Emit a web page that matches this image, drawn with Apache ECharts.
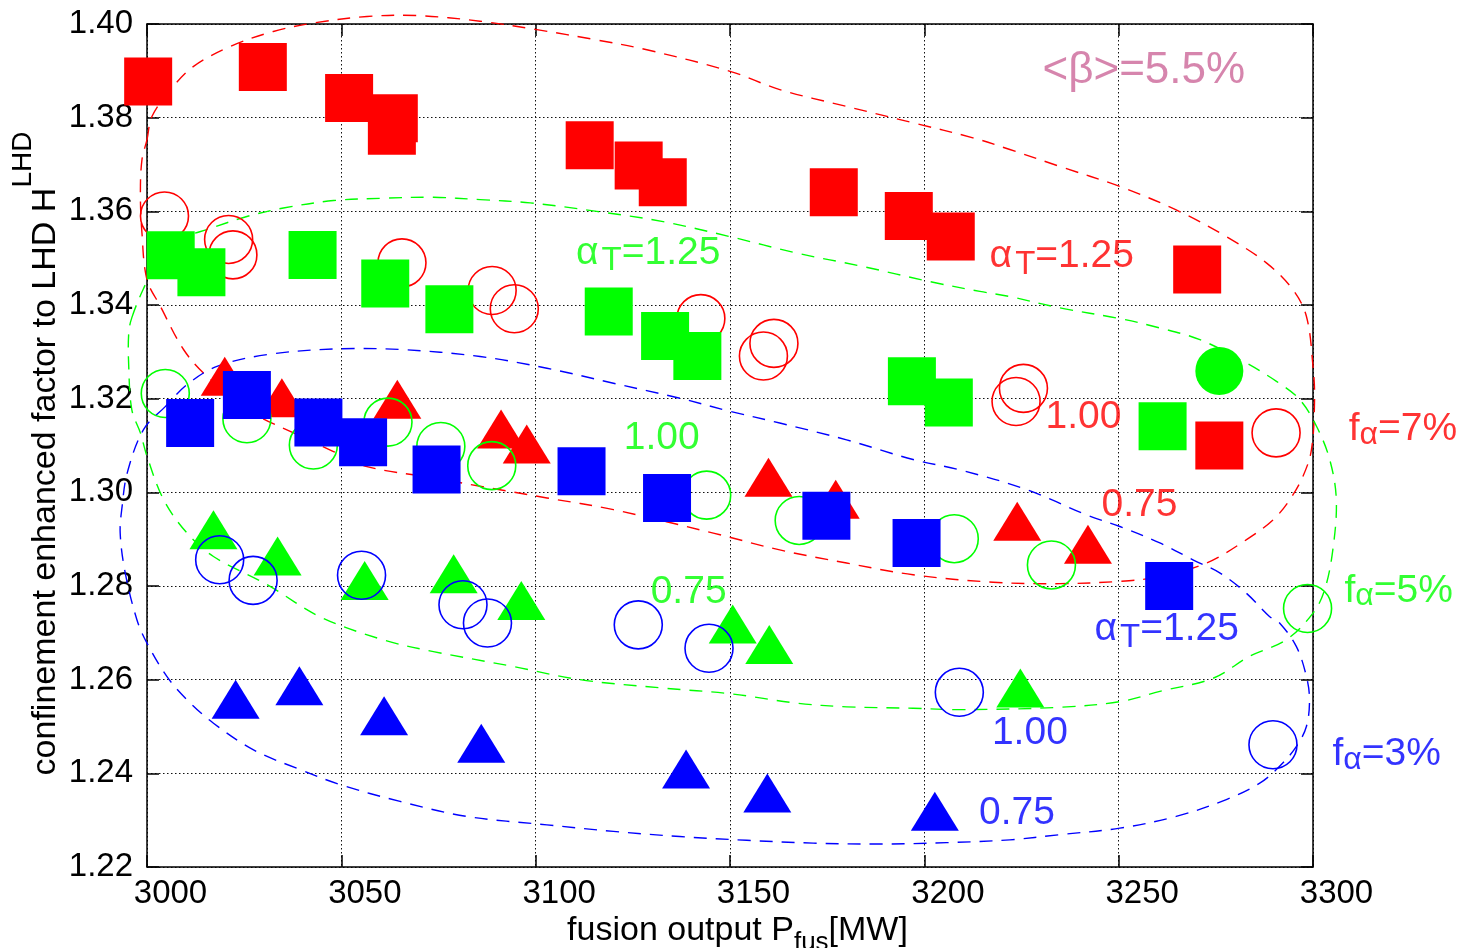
<!DOCTYPE html>
<html>
<head>
<meta charset="utf-8">
<title>Confinement enhancement factor vs fusion output</title>
<script src="https://cdn.jsdelivr.net/npm/echarts/dist/echarts.min.js"></script>
<style>
html, body { margin: 0; padding: 0; background: #fff; }
#chart { width: 1461px; height: 948px; }
</style>
</head>
<body>
<div id="chart"></div>
<script>
// ---- data: [fusion output P_fus (MW), confinement enhancement factor] ----
// f_alpha = 7 %
const red125 = [[3000.3, 1.3877], [3029.8, 1.3908], [3052.0, 1.3842], [3063.5, 1.3799], [3063.0, 1.3772],
  [3113.9, 1.3741], [3126.5, 1.3698], [3132.7, 1.3662], [3176.7, 1.3641], [3196.0, 1.3590],
  [3206.8, 1.3546], [3270.2, 1.3476], [3275.9, 1.3100]];
const red100 = [[3004.5, 1.3590], [3021.0, 1.3540], [3022.1, 1.3507], [3065.6, 1.3490], [3088.8, 1.3431],
  [3094.5, 1.3392], [3142.5, 1.3371], [3161.3, 1.3318], [3158.6, 1.3291], [3225.5, 1.3222],
  [3223.6, 1.3194], [3290.5, 1.3127]];
const red075 = [[3020.0, 1.3248], [3034.7, 1.3202], [3064.4, 1.3199], [3091.1, 1.3135], [3097.7, 1.3103],
  [3159.9, 1.3032], [3177.2, 1.2985], [3223.9, 1.2938], [3242.1, 1.2889]];

// f_alpha = 5 %
const green125 = [[3006.1, 1.3506], [3014.0, 1.3470], [3042.6, 1.3507], [3061.3, 1.3446], [3077.8, 1.3391],
  [3118.8, 1.3386], [3133.3, 1.3334], [3141.6, 1.3291], [3196.8, 1.3237], [3206.3, 1.3192],
  [3261.3, 1.3141]];
const greenDot = [[3275.9, 1.3259]];
const green100 = [[3004.7, 1.3211], [3025.7, 1.3157], [3042.8, 1.3101], [3062.0, 1.3150], [3075.6, 1.3098],
  [3088.7, 1.3057], [3144.0, 1.2994], [3167.8, 1.2940], [3207.7, 1.2901], [3232.7, 1.2845],
  [3298.6, 1.2752]];
const green075 = [[3017.1, 1.2920], [3033.6, 1.2864], [3056.0, 1.2812], [3078.9, 1.2826], [3096.3, 1.2769],
  [3150.7, 1.2719], [3160.1, 1.2675], [3224.7, 1.2582]];

// f_alpha = 3 %
const blue125 = [[3011.1, 1.3148], [3025.7, 1.3208], [3044.1, 1.3149], [3055.6, 1.3107], [3074.5, 1.3049],
  [3111.8, 1.3045], [3133.8, 1.2988], [3174.8, 1.2950], [3198.0, 1.2892], [3263.0, 1.2800]];
const blue100 = [[3018.7, 1.2856], [3027.3, 1.2812], [3055.2, 1.2823], [3081.3, 1.2760], [3087.6, 1.2721],
  [3126.4, 1.2717], [3144.6, 1.2667], [3209.0, 1.2573], [3289.7, 1.2461]];
const blue075 = [[3022.8, 1.2558], [3039.2, 1.2587], [3061.0, 1.2523], [3086.0, 1.2464], [3138.7, 1.2409],
  [3159.6, 1.2358], [3202.7, 1.2319]];

// closed dashed contours grouping each f_alpha family (drawn as closed smooth loops)
const redContour = [[3000.0, 1.3753], [3001.3, 1.3803], [3006.4, 1.3863], [3011.9, 1.3909], [3021.4, 1.3952],
  [3032.5, 1.3984], [3042.8, 1.4002], [3056.6, 1.4016], [3069.5, 1.4018], [3085.7, 1.4006],
  [3100.3, 1.3988], [3115.7, 1.3966], [3128.6, 1.3945], [3150.0, 1.3899], [3162.8, 1.3860],
  [3180.0, 1.3824], [3197.1, 1.3789], [3212.5, 1.3757], [3222.0, 1.3732], [3234.8, 1.3696],
  [3250.3, 1.3653], [3264.8, 1.3603], [3277.7, 1.3546], [3288.0, 1.3490], [3294.8, 1.3433],
  [3298.3, 1.3376], [3300.0, 1.3269], [3300.4, 1.3198], [3299.6, 1.3091], [3297.4, 1.3034],
  [3294.0, 1.2984], [3289.7, 1.2941], [3282.9, 1.2899], [3272.6, 1.2849], [3260.6, 1.2820],
  [3250.3, 1.2810], [3234.8, 1.2805], [3217.7, 1.2808], [3197.1, 1.2824], [3180.0, 1.2849],
  [3162.8, 1.2877], [3145.7, 1.2913], [3120.0, 1.2963], [3102.9, 1.2988], [3085.7, 1.3013],
  [3073.7, 1.3031], [3056.6, 1.3055], [3048.0, 1.3087], [3037.7, 1.3127], [3027.4, 1.3169],
  [3015.4, 1.3248], [3009.4, 1.3305], [3003.4, 1.3398], [3000.0, 1.3454], [2998.7, 1.3554],
  [2998.3, 1.3639], [2998.7, 1.3710]];
const greenContour = [[2996.1, 1.3373], [2999.0, 1.3433], [3003.4, 1.3504], [3010.3, 1.3546], [3015.4, 1.3561],
  [3025.7, 1.3589], [3035.1, 1.3607], [3048.0, 1.3623], [3060.8, 1.3628], [3073.7, 1.3630],
  [3085.7, 1.3625], [3098.6, 1.3618], [3115.7, 1.3600], [3132.8, 1.3578], [3150.0, 1.3546],
  [3167.1, 1.3511], [3184.3, 1.3482], [3201.4, 1.3450], [3214.3, 1.3429], [3222.0, 1.3418],
  [3234.8, 1.3394], [3250.3, 1.3371], [3260.6, 1.3351], [3270.9, 1.3326], [3282.0, 1.3280],
  [3290.6, 1.3237], [3296.6, 1.3198], [3300.9, 1.3141], [3304.3, 1.3070], [3306.0, 1.2984],
  [3305.1, 1.2877], [3303.0, 1.2792], [3300.0, 1.2742], [3293.1, 1.2685], [3283.7, 1.2650],
  [3274.3, 1.2603], [3260.6, 1.2575], [3250.3, 1.2553], [3234.8, 1.2541], [3209.1, 1.2536],
  [3197.1, 1.2539], [3180.0, 1.2542], [3167.1, 1.2550], [3150.0, 1.2570], [3132.8, 1.2582],
  [3111.4, 1.2600], [3094.3, 1.2628], [3073.7, 1.2660], [3060.8, 1.2685], [3044.6, 1.2734],
  [3030.9, 1.2803], [3017.1, 1.2863], [3010.3, 1.2913], [3004.3, 1.2984], [3000.0, 1.3077],
  [2998.3, 1.3127], [2996.1, 1.3176], [2995.3, 1.3269], [2995.3, 1.3340]];
const blueContour = [[3004.7, 1.3183], [2999.1, 1.3134], [2994.9, 1.3041], [2993.6, 1.2970], [2993.1, 1.2913],
  [2994.4, 1.2828], [2997.4, 1.2728], [3000.0, 1.2678], [3005.1, 1.2607], [3010.3, 1.2557],
  [3017.1, 1.2507], [3027.4, 1.2450], [3039.4, 1.2408], [3049.7, 1.2376], [3065.1, 1.2340],
  [3082.3, 1.2308], [3102.9, 1.2290], [3120.0, 1.2276], [3137.1, 1.2265], [3154.3, 1.2257],
  [3171.4, 1.2251], [3188.6, 1.2249], [3205.7, 1.2252], [3222.0, 1.2258], [3234.8, 1.2269],
  [3250.3, 1.2283], [3264.8, 1.2308], [3277.7, 1.2344], [3286.3, 1.2379], [3291.4, 1.2415],
  [3295.7, 1.2457], [3298.3, 1.2500], [3299.1, 1.2557], [3298.3, 1.2607], [3295.7, 1.2671],
  [3291.4, 1.2721], [3288.8, 1.2735], [3282.8, 1.2785], [3276.0, 1.2828], [3269.1, 1.2856],
  [3260.6, 1.2892], [3250.3, 1.2927], [3241.7, 1.2952], [3226.3, 1.3006], [3209.1, 1.3048],
  [3197.1, 1.3070], [3180.0, 1.3112], [3162.8, 1.3148], [3150.0, 1.3173], [3137.1, 1.3201],
  [3120.0, 1.3233], [3102.9, 1.3265], [3085.7, 1.3290], [3065.1, 1.3305], [3048.0, 1.3306],
  [3030.9, 1.3294], [3018.0, 1.3269], [3010.3, 1.3230]];

// axis ranges
const xRange = { min: 3000, max: 3300, step: 50 };
const yRange = { min: 1.22, max: 1.40, step: 0.02 };

// text notes: anchor = left end of text at its baseline, in data units
const notes = [
  { x: 3230.4, y: 1.3868, c: 'pink',  parts: [['b', '<β>=5.5%']] },
  { x: 3110.4, y: 1.3482, c: 'green', parts: [['ta', 'α'], ['t', 'T'], ['m', '=1.25']] },
  { x: 3216.8, y: 1.3475, c: 'red',   parts: [['ta', 'α'], ['t', 'T'], ['m', '=1.25']] },
  { x: 3243.8, y: 1.2678, c: 'blue',  parts: [['ta', 'α'], ['t', 'T'], ['m', '=1.25']] },
  { x: 3122.7, y: 1.3087, c: 'green', parts: [['m', '1.00']] },
  { x: 3231.2, y: 1.3132, c: 'red',   parts: [['m', '1.00']] },
  { x: 3217.4, y: 1.2457, c: 'blue',  parts: [['m', '1.00']] },
  { x: 3245.6, y: 1.2944, c: 'red',   parts: [['m', '0.75']] },
  { x: 3129.6, y: 1.2758, c: 'green', parts: [['m', '0.75']] },
  { x: 3214.1, y: 1.2285, c: 'blue',  parts: [['m', '0.75']] },
  { x: 3309.2, y: 1.3105, c: 'red',   parts: [['m', 'f'], ['a', 'α'], ['m', '=7%']] },
  { x: 3308.1, y: 1.2760, c: 'green', parts: [['m', 'f'], ['a', 'α'], ['m', '=5%']] },
  { x: 3305.0, y: 1.2411, c: 'blue',  parts: [['m', 'f'], ['a', 'α'], ['m', '=3%']] }
];

// ---- styling ----
const FONT = "'Liberation Sans', Arial, Helvetica, sans-serif";
const COLORS = { red: '#ff0000', green: '#00ff00', blue: '#0000ff', pink: '#cc6699' };
const MARK = 48;
const TRI = [48, 39];

function pointSeries(data, symbol, size, color, filled) {
  return {
    type: 'scatter',
    data: data,
    symbol: symbol,
    symbolSize: size,
    clip: false,
    silent: true,
    z: 3,
    itemStyle: filled
      ? { color: color, borderWidth: 0, opacity: 1 }
      : { color: 'rgba(255,255,255,0)', borderColor: color, borderWidth: 1.6, opacity: 1 },
    emphasis: { disabled: true }
  };
}

// a closed, smoothed dashed loop through the contour points, positioned by the axes
function contourSeries(points, color) {
  return {
    type: 'custom',
    coordinateSystem: 'cartesian2d',
    data: points,
    encode: { x: 0, y: 1 },
    clip: false,
    silent: true,
    z: 2,
    renderItem: function (params, api) {
      if (params.dataIndex !== 0) return null;
      return {
        type: 'polygon',
        shape: { points: points.map(function (p) { return api.coord(p); }), smooth: 0.35 },
        style: { fill: 'none', stroke: color, lineWidth: 1.4, lineDash: [13, 9] },
        silent: true
      };
    }
  };
}

function richFor(color) {
  return {
    m:  { fontSize: 39, lineHeight: 46, color: color, fontFamily: FONT },
    ta: { fontSize: 39, lineHeight: 46, color: color, fontFamily: FONT, padding: [0, 3, 0, 0] },
    t:  { fontSize: 33, lineHeight: 46, color: color, fontFamily: FONT, padding: [17, 0, 0, 0] },
    a:  { fontSize: 32, lineHeight: 46, color: color, fontFamily: FONT, padding: [11, 0, 0, 0] },
    b:  { fontSize: 44, lineHeight: 46, color: color, fontFamily: FONT }
  };
}

const noteSeries = {
  type: 'scatter',
  symbolSize: 0.1,
  silent: true,
  clip: false,
  z: 4,
  itemStyle: { color: 'rgba(0,0,0,0)' },
  emphasis: { disabled: true },
  data: notes.map(function (n) {
    const color = COLORS[n.c];
    const main = n.parts[0][0] === 'b' ? 44 : 39;
    return {
      value: [n.x, n.y],
      label: {
        show: true,
        position: [0, 0],
        align: 'left',
        verticalAlign: 'middle',
        offset: [0, -0.35 * main],
        color: color,
        fontFamily: FONT,
        formatter: n.parts.map(function (p) { return '{' + p[0] + '|' + p[1] + '}'; }).join(''),
        rich: richFor(color)
      }
    };
  })
};

const tickLine = { color: '#000', width: 1.5 };
const gridLine = { color: '#111', width: 1, type: [1.5, 2.5] };

const option = {
  animation: false,
  backgroundColor: '#ffffff',
  textStyle: { fontFamily: FONT },
  grid: { left: 147, top: 24, width: 1166, height: 843, containLabel: false, outerBoundsMode: 'none' },
  xAxis: [
    {
      type: 'value', min: xRange.min, max: xRange.max, interval: xRange.step, position: 'bottom',
      axisLine: { show: true, onZero: false, lineStyle: tickLine },
      axisTick: { show: true, inside: true, length: 12, lineStyle: tickLine },
      axisLabel: { show: true, margin: 10, fontSize: 33, color: '#000', fontFamily: FONT,
                   padding: [0, 0, 0, 47], formatter: function (v) { return String(Math.round(v)); } },
      splitLine: { show: true, lineStyle: gridLine },
      name: '{m|fusion output P}{s|fus}{m|[MW]}',
      nameLocation: 'middle',
      nameGap: 44,
      nameMoveOverlap: false,
      nameTextStyle: {
        color: '#000', fontFamily: FONT, padding: [0, 0, 0, 15],
        rich: {
          m: { fontSize: 34, lineHeight: 40, color: '#000', fontFamily: FONT },
          s: { fontSize: 26, lineHeight: 40, color: '#000', fontFamily: FONT, padding: [24, 0, 0, 0] }
        }
      }
    },
    {
      type: 'value', min: xRange.min, max: xRange.max, interval: xRange.step, position: 'top',
      axisLine: { show: true, onZero: false, lineStyle: tickLine },
      axisTick: { show: true, inside: true, length: 12, lineStyle: tickLine },
      axisLabel: { show: false },
      splitLine: { show: false }
    }
  ],
  yAxis: [
    {
      type: 'value', min: yRange.min, max: yRange.max, interval: yRange.step, position: 'left',
      axisLine: { show: true, onZero: false, lineStyle: tickLine },
      axisTick: { show: true, inside: true, length: 12, lineStyle: tickLine },
      axisLabel: { show: true, margin: 14, fontSize: 33, color: '#000', fontFamily: FONT,
                   formatter: function (v) { return v.toFixed(2); } },
      splitLine: { show: true, lineStyle: gridLine },
      name: '{m|confinement enhanced factor to LHD H}{p|LHD}',
      nameLocation: 'middle',
      nameGap: 81,
      nameMoveOverlap: false,
      nameTextStyle: {
        color: '#000', fontFamily: FONT, padding: [0, 16, 0, 0],
        rich: {
          m: { fontSize: 34, lineHeight: 40, color: '#000', fontFamily: FONT },
          p: { fontSize: 28, lineHeight: 40, color: '#000', fontFamily: FONT, padding: [0, 0, 45, 0] }
        }
      }
    },
    {
      type: 'value', min: yRange.min, max: yRange.max, interval: yRange.step, position: 'right',
      axisLine: { show: true, onZero: false, lineStyle: tickLine },
      axisTick: { show: true, inside: true, length: 12, lineStyle: tickLine },
      axisLabel: { show: false },
      splitLine: { show: false }
    }
  ],
  series: [
    contourSeries(redContour, COLORS.red),
    contourSeries(greenContour, COLORS.green),
    contourSeries(blueContour, COLORS.blue),

    pointSeries(red125, 'rect', MARK, COLORS.red, true),
    pointSeries(red100, 'circle', MARK, COLORS.red, false),
    pointSeries(red075, 'triangle', TRI, COLORS.red, true),

    pointSeries(green125, 'rect', MARK, COLORS.green, true),
    pointSeries(greenDot, 'circle', MARK, COLORS.green, true),
    pointSeries(green100, 'circle', MARK, COLORS.green, false),
    pointSeries(green075, 'triangle', TRI, COLORS.green, true),

    pointSeries(blue125, 'rect', MARK, COLORS.blue, true),
    pointSeries(blue100, 'circle', MARK, COLORS.blue, false),
    pointSeries(blue075, 'triangle', TRI, COLORS.blue, true),

    noteSeries
  ]
};

const chart = echarts.init(document.getElementById('chart'), null, { renderer: 'canvas' });
chart.setOption(option);
</script>
</body>
</html>
